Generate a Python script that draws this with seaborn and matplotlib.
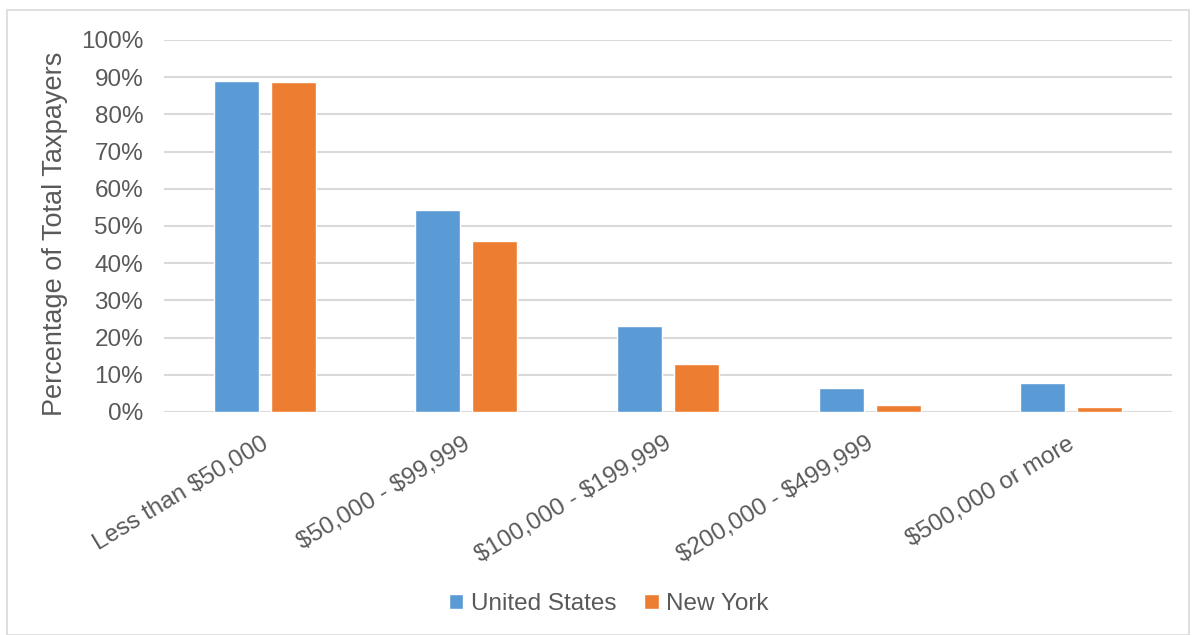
import matplotlib
matplotlib.use("Agg")
import matplotlib.pyplot as plt
import matplotlib.transforms as mtransforms
import seaborn as sns
import pandas as pd
from matplotlib.patches import Rectangle
from matplotlib.ticker import FuncFormatter, MultipleLocator

categories = ["Less than $50,000", "$50,000 - $99,999", "$100,000 - $199,999",
              "$200,000 - $499,999", "$500,000 or more"]
us_values = [89.1, 54.3, 23.0, 6.5, 7.7]
ny_values = [88.7, 45.9, 12.9, 1.9, 1.4]
series_names = ["United States", "New York"]
colors = ["#5B9BD5", "#ED7D31"]

df = pd.DataFrame({
    "Category": categories * 2,
    "Value": us_values + ny_values,
    "Series": [series_names[0]] * len(categories) + [series_names[1]] * len(categories),
})

sns.set_theme(style="white")
plt.rcParams['font.family'] = ['Liberation Sans', 'DejaVu Sans']
plt.rcParams['text.parse_math'] = False
text_color = "#595959"

fig = plt.figure(figsize=(11.96, 6.35), dpi=100)
ax = fig.add_axes([164/1196, 1 - 412/635, (1172-164)/1196, 372/635])

sns.barplot(data=df, x="Category", y="Value", hue="Series", order=categories,
            hue_order=series_names, palette=colors, width=0.565, gap=0.21,
            saturation=1, ax=ax, legend=True)

ax.set_ylim(0, 100)
ax.set_xlim(-0.5, 4.5)
ax.yaxis.set_major_locator(MultipleLocator(10))
ax.yaxis.set_major_formatter(FuncFormatter(lambda v, p: f"{v:.0f}%"))
ax.grid(axis="y", color="#D9D9D9", linewidth=1.5)
ax.set_axisbelow(True)
for s in ax.spines.values():
    s.set_visible(False)
ax.tick_params(axis="both", length=0, colors=text_color, labelsize=17.5)
ax.tick_params(axis="y", pad=15)
ax.tick_params(axis="x", pad=15)
ax.set_xlabel("")
ax.set_ylabel("Percentage of Total Taxpayers", fontsize=19.5, color=text_color)
ax.yaxis.set_label_coords((68 - 164) / 1008, 0.48)
shift = mtransforms.ScaledTranslation(-4/100, 0, fig.dpi_scale_trans)
for lbl in ax.get_xticklabels():
    lbl.set_rotation(31)
    lbl.set_ha("right")
    lbl.set_rotation_mode("anchor")
    lbl.set_transform(lbl.get_transform() + shift)

leg = ax.legend(loc="center", bbox_to_anchor=(0.509, (635-604)/635), bbox_transform=fig.transFigure,
                ncol=2, frameon=False, fontsize=17.5, handlelength=0.6, handleheight=0.6,
                handletextpad=0.3, columnspacing=1.15, labelcolor=text_color)

fig.patches.append(Rectangle((7/1196, 0), 1 - 14/1196, 1 - 10/635, transform=fig.transFigure,
                             fill=False, edgecolor="#D9D9D9", linewidth=1.2))

fig.savefig("out.png", dpi=100, facecolor="white")
